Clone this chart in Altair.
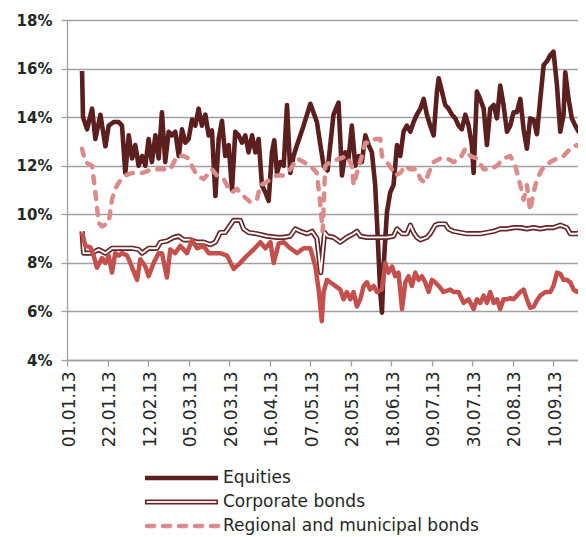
import altair as alt
import pandas as pd

series_names = ["Equities", "Corporate bonds", "Regional and municipal bonds", "Federal loan bonds"]
tick_labels = ["01.01.13", "22.01.13", "12.02.13", "05.03.13", "26.03.13", "16.04.13", "07.05.13",
               "28.05.13", "18.06.13", "09.07.13", "30.07.13", "20.08.13", "10.09.13"]
y_ticks = [4, 6, 8, 10, 12, 14, 16, 18]

# day offsets from 01.01.2013 and values (%)
eq_days = [7.8, 8.3, 10.4, 13.0, 14.7, 17.3, 19.9, 21.6, 24.2, 26.8, 28.5, 30.2, 32.0, 33.7, 35.4, 37.1,
           38.9, 40.6, 42.3, 44.0, 45.8, 47.5, 49.2, 50.9, 52.7, 54.4, 56.1, 57.9, 59.6, 61.3, 63.0, 64.8,
           66.5, 68.2, 69.9, 71.7, 73.4, 75.1, 76.9, 78.6, 80.3, 82.0, 83.8, 85.5, 87.2, 88.9, 90.7, 92.4,
           94.1, 95.9, 97.6, 99.3, 101.0, 102.8, 104.5, 106.2, 107.4, 108.8, 110.5, 112.3, 114.0, 115.7,
           117.4, 119.2, 122.6, 126.1, 129.5, 131.2, 133.0, 135.0, 138.1, 140.7, 142.5, 144.2, 145.9,
           147.6, 149.4, 151.1, 152.8, 154.6, 156.3, 158.0, 159.7, 160.9, 162.3, 163.2, 164.1, 165.8,
           167.5, 169.2, 171.0, 172.7, 174.4, 176.1, 177.9, 179.6, 181.3, 183.1, 184.8, 186.5, 188.2,
           190.0, 191.7, 192.6, 194.3, 196.0, 197.7, 199.5, 201.2, 202.9, 204.6, 206.4, 208.1, 209.8,
           210.7, 212.4, 214.1, 215.9, 217.6, 219.3, 221.1, 222.8, 224.5, 226.2, 228.0, 229.7, 231.4,
           233.1, 234.9, 236.6, 238.3, 240.0, 241.8, 243.5, 245.2, 247.0, 248.7, 250.4, 252.1, 253.9,
           255.6, 257.3, 258.2, 259.9, 261.6, 263.4, 265.1, 266.8, 268.5, 269.5]
eq_vals = [15.9, 14.0, 13.5, 14.35, 13.1, 14.1, 12.8, 13.65, 13.8, 13.8, 13.65, 11.7, 13.25, 12.3, 12.85, 12.0,
           12.4, 12.0, 13.1, 12.15, 13.25, 12.3, 14.2, 12.15, 13.4, 13.25, 13.4, 12.4, 13.5, 12.95, 13.1, 13.9,
           13.65, 14.35, 13.65, 14.1, 13.25, 13.45, 10.75, 13.1, 13.85, 12.4, 12.85, 11.0, 13.4, 13.25, 12.95, 13.25,
           12.55, 13.25, 12.55, 13.1, 11.2, 10.9, 10.55, 12.55, 13.05, 11.7, 12.15, 12.0, 14.5, 11.7,
           12.4, 12.85, 13.65, 14.55, 13.8, 12.9, 12.0, 11.8, 14.1, 14.6, 11.6, 12.55, 12.3,
           13.65, 12.0, 12.4, 12.15, 13.25, 12.85, 12.55, 11.2, 9.25, 6.8, 5.95, 7.9, 10.1,
           10.9, 11.2, 12.85, 12.4, 13.4, 13.65, 13.4, 13.8, 14.1, 14.35, 14.75, 14.1, 13.65,
           13.25, 15.05, 15.6, 15.05, 14.5, 14.35, 14.1, 13.95, 13.65, 13.5, 14.1, 13.65, 12.85,
           11.7, 15.05, 14.75, 14.35, 12.85, 14.35, 14.5, 13.95, 15.3, 14.5, 13.4, 13.65, 14.2,
           14.2, 14.75, 13.5, 12.7, 13.95, 13.9, 13.3, 14.7, 16.15, 16.3, 16.55, 16.7, 15.3,
           13.4, 14.1, 15.85, 14.75, 13.95, 13.65, 13.4, 13.95, 15.6, 15.5]

corp_days = [7.8, 8.6, 13.0, 16.4, 19.9, 23.3, 26.8, 30.2, 33.7, 37.1, 38.9, 42.3, 46.6, 48.4, 51.8, 55.3,
             57.9, 60.4, 63.9, 67.4, 70.8, 74.3, 76.9, 79.4, 82.0, 84.6, 86.3, 89.8, 91.5, 94.1, 98.4, 103.6,
             108.8, 112.3, 115.7, 118.3, 120.9, 124.4, 127.0, 129.5, 131.5, 133.5, 135.0, 138.1, 141.6, 145.0,
             148.5, 150.2, 152.0, 155.4, 158.9, 162.3, 165.8, 169.2, 171.0, 173.6, 176.1, 177.9, 179.6, 181.3,
             183.1, 186.5, 188.2, 190.8, 192.6, 196.0, 197.7, 200.3, 203.8, 207.2, 210.7, 214.1, 217.6, 221.1,
             224.5, 227.9, 231.4, 234.9, 238.3, 241.8, 245.2, 248.7, 252.1, 255.6, 259.0, 260.8, 264.2, 267.7,
             269.5]
corp_vals = [9.3, 8.4, 8.4, 8.55, 8.4, 8.6, 8.6, 8.6, 8.6, 8.55, 8.4, 8.6, 8.6, 8.85, 8.9, 9.05,
             9.1, 8.95, 8.95, 8.85, 8.85, 8.75, 8.85, 9.25, 9.25, 9.55, 9.75, 9.75, 9.4, 9.25, 9.2, 9.1,
             9.05, 9.05, 9.1, 9.4, 9.3, 9.2, 9.3, 9.0, 7.6, 9.25, 9.1, 9.05, 8.85, 9.05,
             9.2, 9.3, 9.1, 9.05, 9.05, 9.05, 9.05, 9.1, 9.4, 9.2, 9.2, 9.55, 9.25, 9.05,
             8.95, 9.05, 9.2, 9.55, 9.6, 9.6, 9.4, 9.3, 9.25, 9.2, 9.2, 9.2, 9.25, 9.3,
             9.4, 9.4, 9.45, 9.45, 9.4, 9.45, 9.4, 9.45, 9.45, 9.55, 9.45, 9.2, 9.2, 9.3,
             9.3]

reg_days = [7.8, 9.5, 13.0, 14.7, 16.4, 18.1, 21.6, 23.3, 25.0, 26.8, 30.2, 33.7, 38.9, 44.0, 48.4, 53.5,
            57.0, 60.4, 63.0, 65.6, 67.4, 70.8, 72.5, 75.1, 77.7, 81.2, 83.8, 85.5, 88.0, 91.5, 95.0, 98.4,
            100.2, 102.8, 105.4, 108.8, 112.3, 115.7, 119.2, 122.6, 126.1, 129.5, 131.0, 132.5, 133.8, 136.4,
            141.6, 145.0, 147.6, 148.5, 150.2, 152.8, 154.6, 157.1, 159.7, 162.3, 163.2, 165.8, 168.4, 170.1,
            172.7, 175.3, 177.9, 181.3, 183.1, 185.6, 187.4, 190.0, 193.4, 196.9, 200.3, 203.8, 206.4, 209.0,
            212.4, 215.9, 219.3, 222.8, 226.2, 229.7, 232.3, 234.9, 236.6, 238.3, 240.0, 241.8, 243.5, 246.1,
            250.4, 253.9, 257.3, 260.8, 264.2, 267.7, 269.5]
reg_vals = [12.7, 12.15, 12.0, 10.9, 9.65, 9.5, 9.65, 10.6, 11.05, 11.3, 11.6, 11.7, 11.7, 11.85, 11.85, 11.85,
            12.4, 12.4, 12.3, 11.85, 11.6, 11.45, 11.6, 11.85, 11.6, 11.45, 11.05, 10.9, 11.05, 10.75, 10.5, 10.6,
            11.2, 11.3, 11.45, 11.6, 11.6, 11.85, 12.3, 12.15, 12.0, 11.7, 10.6, 9.3, 12.0, 12.15,
            12.3, 12.4, 12.0, 11.2, 11.7, 12.4, 12.95, 12.95, 13.1, 13.1, 12.4, 12.15, 11.85, 11.6,
            11.7, 12.0, 11.85, 11.85, 11.45, 11.3, 11.7, 12.15, 12.3, 12.3, 12.15, 12.3, 12.7, 12.4,
            12.3, 11.85, 11.85, 12.0, 12.3, 12.4, 12.0, 11.2, 10.6, 11.2, 10.15, 10.9, 11.45, 11.85,
            12.15, 12.3, 12.4, 12.7, 12.85, 12.7, 12.5]

fed_days = [7.8, 9.5, 12.1, 13.8, 15.5, 18.1, 19.9, 21.6, 23.3, 25.0, 26.8, 28.5, 31.1, 32.8, 36.3, 38.0,
            40.6, 42.3, 44.9, 47.5, 49.2, 51.8, 53.5, 56.1, 58.7, 62.2, 64.8, 67.4, 70.8, 73.4, 76.0, 79.4,
            82.9, 86.4, 89.8, 93.3, 96.7, 100.2, 102.8, 105.4, 107.1, 109.7, 112.3, 115.7, 119.2, 122.6,
            126.1, 128.7, 130.4, 132.0, 133.0, 134.7, 136.4, 139.0, 141.6, 143.3, 145.0, 146.8, 148.5, 150.2,
            152.0, 153.7, 155.4, 157.1, 158.9, 160.6, 163.2, 164.9, 166.6, 168.4, 170.1, 171.8, 173.6, 175.3,
            177.0, 178.7, 180.5, 182.2, 183.9, 185.6, 187.4, 189.1, 190.8, 192.6, 195.1, 198.6, 200.3, 202.9,
            205.5, 208.1, 210.7, 212.4, 214.1, 215.9, 217.6, 219.3, 221.1, 222.8, 224.5, 226.2, 228.0, 229.7,
            231.4, 233.1, 234.9, 236.6, 238.3, 240.0, 241.8, 243.5, 245.2, 247.9, 250.4, 252.1, 253.9, 255.6,
            257.3, 259.0, 260.8, 262.5, 264.2, 266.0, 267.7, 269.5]
fed_vals = [9.25, 8.7, 8.65, 8.3, 7.8, 8.2, 8.0, 8.3, 7.6, 8.4, 8.3, 8.4, 8.3, 8.0, 7.3, 8.15,
            7.85, 7.45, 8.0, 8.4, 8.4, 7.4, 8.55, 8.4, 8.7, 8.4, 8.95, 8.6, 8.7, 8.4, 8.4, 8.4,
            8.3, 7.75, 8.0, 8.3, 8.55, 8.85, 8.6, 8.85, 8.0, 8.8, 8.85, 8.6, 8.4, 8.6,
            8.6, 7.85, 6.9, 5.6, 6.8, 7.3, 7.2, 7.05, 6.9, 6.5, 6.8, 6.5, 6.8, 6.2,
            6.5, 7.05, 7.2, 6.9, 7.05, 6.8, 6.9, 8.0, 7.6, 7.85, 7.45, 7.6, 6.1, 7.2,
            7.45, 7.05, 7.6, 7.3, 7.45, 7.2, 6.8, 7.3, 7.2, 7.05, 6.8, 6.9, 6.8, 6.8,
            6.35, 6.5, 6.1, 6.5, 6.35, 6.65, 6.35, 6.8, 6.35, 6.5, 6.1, 6.5, 6.5, 6.55,
            6.5, 6.65, 6.8, 6.9, 6.5, 6.15, 6.2, 6.45, 6.65, 6.8, 6.8, 7.05, 7.6, 7.55,
            7.3, 7.3, 7.2, 6.9, 6.8, 6.9, 6.65, 6.35]

COL_EQ = "#5c1f1f"
COL_CORP = "#652524"
COL_REG = "#d98c8a"
COL_FED = "#c4504d"
GRID = "#a0a0a0"
TEXT = "#262626"

base = pd.Timestamp("2013-01-01")


def frame(days, vals, name):
    return pd.DataFrame({"date": base + pd.to_timedelta(days, unit="D"), "value": vals, "series": name})


df = pd.concat([frame(eq_days, eq_vals, series_names[0]),
                frame(corp_days, corp_vals, series_names[1]),
                frame(reg_days, reg_vals, series_names[2]),
                frame(fed_days, fed_vals, series_names[3])], ignore_index=True)


def dt(s):
    d, m, y = s.split(".")
    return alt.DateTime(year=2000 + int(y), month=int(m), date=int(d))


x_enc = alt.X("date:T",
              scale=alt.Scale(domain=[alt.DateTime(year=2013, month=1, date=1),
                                      alt.DateTime(year=2013, month=9, date=22, hours=19)], nice=False),
              axis=alt.Axis(values=[dt(s) for s in tick_labels], format="%d.%m.%y", labelAngle=-90,
                            labelAlign="right", labelBaseline="middle", labelFont="DejaVu Sans",
                            labelFontSize=17, labelColor=TEXT, tickSize=6, tickColor=GRID,
                            domainColor=GRID, domainWidth=1.3, tickWidth=1.3, grid=False,
                            labelOffset=2, labelPadding=5, title=None))
y_enc = alt.Y("value:Q", scale=alt.Scale(domain=[4, 18], nice=False, zero=False),
              axis=alt.Axis(values=y_ticks, labelExpr="datum.value + '%'", labelFont="DejaVu Sans",
                            labelFontWeight="bold", labelFontSize=15, labelColor=TEXT, tickSize=6,
                            tickColor=GRID, tickWidth=1.3, grid=True, gridColor=GRID, gridWidth=1.3,
                            domainColor=GRID, domainWidth=1.3, labelPadding=9, title=None))

mb = alt.Chart(df).encode(x=x_enc, y=y_enc)


def sel(name):
    return alt.datum.series == name


eq_line = mb.transform_filter(sel(series_names[0])).mark_line(
    color=COL_EQ, strokeWidth=4.6, strokeJoin="round", clip=True)
corp_out = mb.transform_filter(sel(series_names[1])).mark_line(
    color=COL_CORP, strokeWidth=5.2, strokeJoin="round", clip=True)
corp_in = mb.transform_filter(sel(series_names[1])).mark_line(
    color="#ffffff", strokeWidth=1.9, strokeJoin="round", clip=True)
reg_line = mb.transform_filter(sel(series_names[2])).mark_line(
    color=COL_REG, strokeWidth=4.5, strokeDash=[7, 9], strokeCap="round", strokeJoin="round", clip=True)
fed_line = mb.transform_filter(sel(series_names[3])).mark_line(
    color=COL_FED, strokeWidth=4.5, strokeJoin="round", clip=True)

main = alt.layer(eq_line, corp_out, corp_in, reg_line, fed_line)

# legend built from the series names
leg_df = pd.DataFrame({"name": series_names})
leg_y = alt.Y("name:N", scale=alt.Scale(type="point", domain=series_names, range=[458, 530], padding=0),
              axis=None)
lb = alt.Chart(leg_df).encode(y=leg_y)


def lsel(name):
    return alt.datum.name == name


l_eq = lb.transform_filter(lsel(series_names[0])).mark_rule(color=COL_EQ, strokeWidth=4.6).encode(
    x=alt.value(78), x2=alt.value(151))
l_corp_o = lb.transform_filter(lsel(series_names[1])).mark_rule(color=COL_CORP, strokeWidth=5.2).encode(
    x=alt.value(78), x2=alt.value(151))
l_corp_i = lb.transform_filter(lsel(series_names[1])).mark_rule(color="#f4e4e4", strokeWidth=2).encode(
    x=alt.value(79.5), x2=alt.value(149.5))
l_reg = lb.transform_filter(lsel(series_names[2])).mark_rule(
    color=COL_REG, strokeWidth=4.5, strokeDash=[7, 9], strokeCap="round").encode(
    x=alt.value(80), x2=alt.value(151))
l_fed = lb.transform_filter(lsel(series_names[3])).mark_rule(color=COL_FED, strokeWidth=4.5).encode(
    x=alt.value(78), x2=alt.value(151))
l_txt = lb.mark_text(align="left", baseline="middle", font="DejaVu Sans", fontSize=17, color=TEXT).encode(
    x=alt.value(156), text="name:N")

legend = alt.layer(l_eq, l_corp_o, l_corp_i, l_reg, l_fed, l_txt)

chart = alt.layer(main, legend).resolve_scale(y="independent").properties(
    width=511, height=340,
    autosize=alt.AutoSizeParams(type="none"),
    padding={"left": 59, "top": 12, "right": 0, "bottom": 177},
).configure_view(stroke=None).configure(background="#ffffff")

chart.save("out.html", embed_options={"renderer": "svg", "actions": False})
